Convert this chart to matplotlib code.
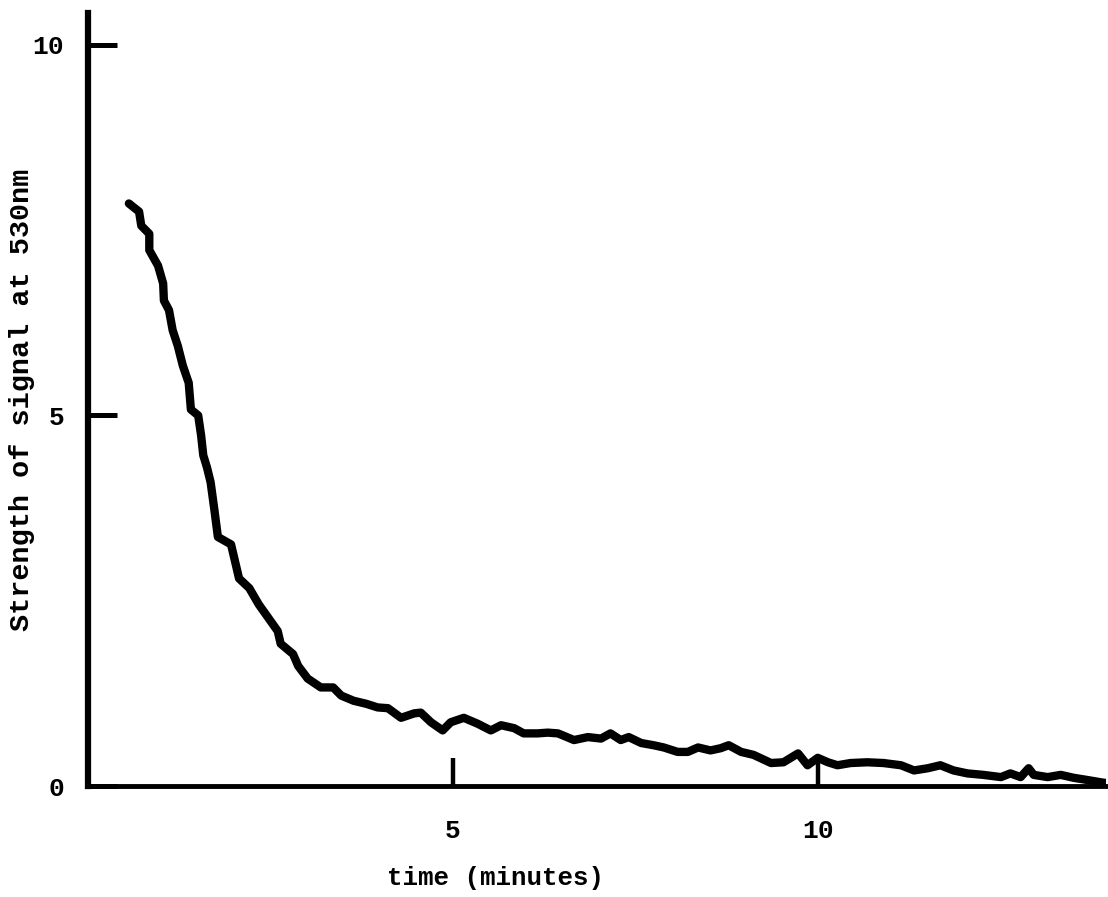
import matplotlib
matplotlib.use("Agg")
import matplotlib.pyplot as plt

# Signal decay trace (time in minutes, signal strength)
time_min = [
    0.56, 0.70, 0.73, 0.84, 0.84, 0.96, 1.03, 1.04, 1.11, 1.16,
    1.23, 1.30, 1.38, 1.41, 1.51, 1.55, 1.58, 1.63, 1.68, 1.73,
    1.78, 1.96, 2.07, 2.21, 2.34, 2.47, 2.60, 2.64, 2.81, 2.88,
    3.01, 3.19, 3.36, 3.47, 3.64, 3.81, 3.97, 4.11, 4.29, 4.47,
    4.56, 4.70, 4.86, 4.97, 5.15, 5.34, 5.52, 5.66, 5.84, 5.97,
    6.16, 6.30, 6.44, 6.66, 6.85, 7.03, 7.16, 7.30, 7.41, 7.58,
    7.75, 7.89, 8.08, 8.22, 8.36, 8.53, 8.67, 8.78, 8.95, 9.12,
    9.36, 9.53, 9.73, 9.86, 10.00, 10.14, 10.27, 10.45, 10.68, 10.90,
    11.14, 11.32, 11.51, 11.68, 11.86, 12.05, 12.27, 12.51, 12.64, 12.78,
    12.89, 12.96, 13.15, 13.33, 13.51, 13.70, 13.88, 13.95,
]
signal = [
    7.86, 7.75, 7.56, 7.45, 7.23, 7.02, 6.78, 6.55, 6.42, 6.15,
    5.94, 5.67, 5.44, 5.08, 5.00, 4.73, 4.46, 4.30, 4.10, 3.74,
    3.36, 3.26, 2.80, 2.67, 2.45, 2.27, 2.09, 1.92, 1.78, 1.62,
    1.45, 1.33, 1.33, 1.22, 1.15, 1.11, 1.06, 1.05, 0.92, 0.98,
    0.99, 0.86, 0.75, 0.86, 0.92, 0.84, 0.75, 0.82, 0.78, 0.71,
    0.71, 0.72, 0.71, 0.62, 0.66, 0.64, 0.71, 0.62, 0.66, 0.58,
    0.55, 0.52, 0.46, 0.46, 0.52, 0.48, 0.51, 0.55, 0.46, 0.42,
    0.31, 0.32, 0.44, 0.28, 0.38, 0.32, 0.28, 0.31, 0.32, 0.31,
    0.28, 0.21, 0.24, 0.28, 0.21, 0.17, 0.15, 0.12, 0.17, 0.12,
    0.24, 0.15, 0.12, 0.15, 0.11, 0.08, 0.05, 0.04,
]

x_ticks = [5, 10]
y_ticks = [0, 5, 10]

FONT = ["Liberation Mono", "DejaVu Sans Mono"]

fig = plt.figure(figsize=(11.08, 8.97), dpi=100)
ax = fig.add_axes([88 / 1108, 111 / 897, 1018 / 1108, 773 / 897])

ax.plot(time_min, signal, color="black", lw=6, solid_capstyle="round",
        solid_joinstyle="round")

ax.set_xlim(0, 13.95)
ax.set_ylim(0, 10.43)

for side in ("top", "right"):
    ax.spines[side].set_visible(False)
ax.spines["left"].set_linewidth(4.5)
ax.spines["bottom"].set_linewidth(3.5)

ax.set_xticks(x_ticks)
ax.set_yticks(y_ticks)
ax.tick_params(axis="y", direction="in", length=21, width=3.6, pad=17,
               labelsize=19)
ax.tick_params(axis="x", direction="in", length=20, width=3.2, pad=24,
               labelsize=19)
for lbl in ax.get_xticklabels() + ax.get_yticklabels():
    lbl.set_family(FONT)
    lbl.set_fontweight("bold")

ax.set_xlabel("time (minutes)", family=FONT, fontsize=18.5, fontweight="bold")
ax.xaxis.set_label_coords(0.40, -0.103)
ax.set_ylabel("Strength of signal at 530nm", family=FONT, fontsize=20.5,
              fontweight="bold")
ax.yaxis.set_label_coords(-0.052, 0.5)

fig.savefig("out.png", dpi=100, facecolor="white")
